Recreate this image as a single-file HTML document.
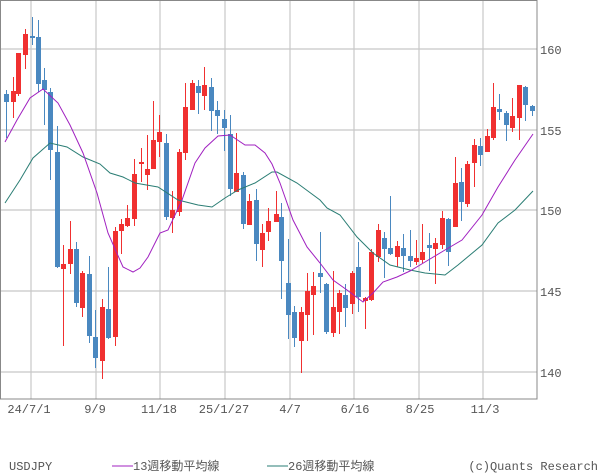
<!DOCTYPE html>
<html><head><meta charset="utf-8"><style>
body{margin:0;background:#fff;width:600px;height:475px;overflow:hidden}
svg{display:block}
text{font-family:"Liberation Mono","Noto Sans CJK JP",monospace;fill:#555;font-size:12px}
</style></head><body>
<svg width="600" height="475" viewBox="0 0 600 475">
<g stroke="#c8c8c8" stroke-width="1.2">
<line x1="0" y1="49" x2="537" y2="49"/><line x1="0" y1="130" x2="537" y2="130"/><line x1="0" y1="210" x2="537" y2="210"/><line x1="0" y1="291" x2="537" y2="291"/><line x1="0" y1="372" x2="537" y2="372"/>
<line x1="31" y1="0" x2="31" y2="399"/><line x1="96" y1="0" x2="96" y2="399"/><line x1="160" y1="0" x2="160" y2="399"/><line x1="225" y1="0" x2="225" y2="399"/><line x1="290" y1="0" x2="290" y2="399"/><line x1="354" y1="0" x2="354" y2="399"/><line x1="419" y1="0" x2="419" y2="399"/><line x1="483" y1="0" x2="483" y2="399"/>
</g>
<g id="c"></g>
<polyline fill="none" stroke="#2a7d74" stroke-width="1" points="5,203 20,180 33,158 50,143 67,147 83,157 100,164 110,173 123,177 135,183 158,187 178,200 198,205 212,207 225,198 238,190 255,183 272,172 277,172 297,183 320,200 327,208 340,215 357,237 373,253 390,265 410,270 425,273 445,275 458,265 482,245 498,223 515,210 533,191"/>
<polyline fill="none" stroke="#a020c0" stroke-width="1" points="5,142 17,120 30,98 43,89 58,103 70,125 83,153 97,193 108,233 123,267 133,272 140,268 148,257 160,233 168,230 182,200 195,163 205,148 218,136 230,135 245,145 255,145 265,153 272,164 280,183 293,220 307,247 320,263 333,280 347,290 363,302 373,293 383,282 397,277 410,271 425,262 445,250 462,240 482,215 498,187 515,160 533,134"/>
<rect x="0.5" y="0.5" width="536.5" height="398.5" fill="none" stroke="#888" stroke-width="1"/>
<text x="540" y="377">140</text><text x="540" y="296">145</text><text x="540" y="215">150</text><text x="540" y="135">155</text><text x="540" y="54">160</text>
<g text-anchor="middle"><text x="29" y="413">24/7/1</text><text x="95" y="413">9/9</text><text x="159" y="413">11/18</text><text x="224" y="413">25/1/27</text><text x="290" y="413">4/7</text><text x="355" y="413">6/16</text><text x="420" y="413">8/25</text><text x="485" y="413">11/3</text></g>
<text x="9" y="470">USDJPY</text>
<line x1="112" y1="466" x2="133" y2="466" stroke="#a020c0" stroke-width="1"/><text x="133" y="470">13週移動平均線</text>
<line x1="267" y1="466" x2="288" y2="466" stroke="#2a7d74" stroke-width="1"/><text x="288" y="470">26週移動平均線</text>
<text x="598" y="470" text-anchor="end">(c)Quants Research</text>
</svg>
<script>
var d=[[6,94,102,90,138,0],[12.5,91,102,77,118,1],[18,53,94,53,96,1],[25,34,55,29,69,1],[31.5,36,37,17,45,0],[38,37,84,20,92,0],[44,80,90,68,125,0],[50,92,150,88,180,0],[57,152,267,126,268,0],[63,264,269,245,346,1],[70,249,264,221,274,1],[76,249,303,242,307,0],[82,273,308,271,317,1],[89,274,336,256,343,0],[95,337,358,310,368,0],[102,307,361,299,379,1],[108,309,338,267,339,0],[115,231,337,227,346,1],[121,224,231,219,254,1],[127,218,226,205,227,1],[134,174,219,159,226,1],[141,162,164,148,182,1],[147,169,175,135,190,1],[153,140,169,101,169,1],[159,132,142,115,157,1],[166,143,217,134,220,0],[172,210,218,191,233,1],[179,152,212,149,216,1],[185,107,153,83,160,1],[192,83,110,80,110,1],[198,86,93,80,114,0],[204,85,96,67,110,1],[211,87,111,78,131,0],[217,110,116,101,134,0],[224,119,128,110,151,0],[230,134,189,115,196,0],[236,173,192,133,192,1],[243,175,224,172,229,0],[249,201,225,194,225,1],[256,200,244,189,261,0],[262,233,250,224,267,1],[268,221,232,208,241,1],[276,214,222,191,222,1],[281,217,261,203,299,0],[288,283,315,239,339,0],[294,312,338,306,347,0],[301,312,341,307,373,1],[307,291,315,273,341,1],[313,286,295,272,335,1],[320,273,277,232,293,0],[326,284,332,283,334,0],[333,307,333,271,337,1],[339,293,312,290,334,1],[345,295,308,284,327,0],[352,273,304,271,314,1],[358,267,297,242,312,0],[365,298,301,297,329,1],[371,252,300,249,301,1],[378,230,257,224,262,1],[384,238,249,232,278,0],[390,248,254,196,255,0],[397,246,257,241,267,1],[403,248,256,234,272,0],[410,256,261,230,267,0],[416,258,262,240,265,1],[422,252,260,224,263,1],[429,245,248,233,271,0],[435,243,249,238,284,1],[442,218,245,211,249,1],[448,219,252,218,266,0],[455,183,227,157,227,1],[461,182,202,168,221,0],[467,164,204,161,207,1],[474,145,163,139,187,1],[480,146,155,138,166,0],[487,136,152,129,152,1],[493,107,138,83,140,1],[499,109,112,94,120,0],[506,113,125,111,141,0],[512,116,128,98,132,1],[519,85,118,85,140,1],[525,87,105,86,121,0],[532,106,111,105,116,0]];
var s='';d.forEach(function(c){var col=c[5]?'#f03030':'#4a88c0';var x=Math.round(c[0]);
s+='<rect x="'+x+'" y="'+c[3]+'" width="1" height="'+(c[4]-c[3])+'" fill="'+col+'"/>';
s+='<rect x="'+(x-2)+'" y="'+c[1]+'" width="5" height="'+Math.max(2,c[2]-c[1])+'" fill="'+col+'"/>';});
document.getElementById('c').innerHTML=s;
</script>
</body></html>
